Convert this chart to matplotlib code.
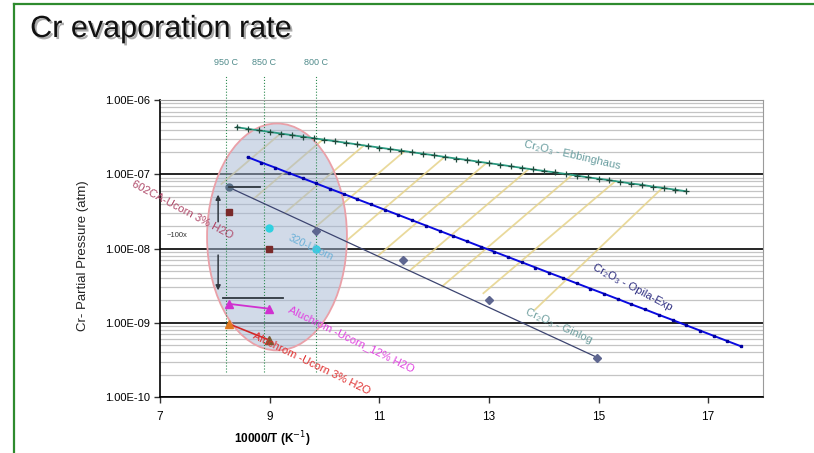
import numpy as np
import matplotlib
matplotlib.use('Agg')
import matplotlib.pyplot as plt
from matplotlib.patches import Ellipse
from matplotlib.lines import Line2D
from matplotlib.ticker import LogLocator, NullFormatter
import matplotlib.patheffects as pe

plt.rcParams['font.family'] = ['Liberation Sans', 'DejaVu Sans']

# Cr2O3 - Ebbinghaus
ebb_x = [8.4, 8.6, 8.8, 9.0, 9.2, 9.4, 9.6, 9.8, 10.0, 10.2, 10.4, 10.6, 10.8, 11.0,
         11.2, 11.4, 11.6, 11.8, 12.0, 12.2, 12.4, 12.6, 12.8, 13.0, 13.2, 13.4, 13.6,
         13.8, 14.0, 14.2, 14.4, 14.6, 14.8, 15.0, 15.2, 15.4, 15.6, 15.8, 16.0, 16.2,
         16.4, 16.6]
ebb_p = [4.30e-7, 4.09e-7, 3.90e-7, 3.72e-7, 3.54e-7, 3.37e-7, 3.21e-7, 3.06e-7, 2.92e-7,
         2.78e-7, 2.65e-7, 2.52e-7, 2.40e-7, 2.29e-7, 2.18e-7, 2.08e-7, 1.98e-7, 1.89e-7,
         1.80e-7, 1.71e-7, 1.63e-7, 1.56e-7, 1.48e-7, 1.41e-7, 1.35e-7, 1.28e-7, 1.22e-7,
         1.16e-7, 1.11e-7, 1.06e-7, 1.01e-7, 9.6e-8, 9.1e-8, 8.7e-8, 8.3e-8, 7.9e-8,
         7.5e-8, 7.2e-8, 6.8e-8, 6.5e-8, 6.2e-8, 5.9e-8]

# Cr2O3 - Opila-Exp
opila_x = [8.60, 8.85, 9.10, 9.35, 9.60, 9.85, 10.10, 10.35, 10.60, 10.85, 11.10, 11.35,
           11.60, 11.85, 12.10, 12.35, 12.60, 12.85, 13.10, 13.35, 13.60, 13.85, 14.10,
           14.35, 14.60, 14.85, 15.10, 15.35, 15.60, 15.85, 16.10, 16.35, 16.60, 16.85,
           17.10, 17.35, 17.60]
opila_p = [1.70e-7, 1.44e-7, 1.23e-7, 1.04e-7, 8.85e-8, 7.52e-8, 6.38e-8, 5.43e-8, 4.61e-8,
           3.92e-8, 3.33e-8, 2.83e-8, 2.40e-8, 2.04e-8, 1.73e-8, 1.47e-8, 1.25e-8, 1.06e-8,
           9.04e-9, 7.69e-9, 6.53e-9, 5.55e-9, 4.71e-9, 4.01e-9, 3.40e-9, 2.89e-9, 2.46e-9,
           2.09e-9, 1.77e-9, 1.51e-9, 1.28e-9, 1.09e-9, 9.25e-10, 7.86e-10, 6.67e-10,
           5.67e-10, 4.82e-10]

# Cr2O3 - Ginlog (trend line + points)
gin_fit_x = [8.25, 14.98]
gin_fit_p = [6.7e-8, 3.4e-10]
gin_x = [9.84, 11.44, 13.0, 14.98]
gin_p = [1.7e-8, 7.1e-9, 2.0e-9, 3.4e-10]
gin0_x = [8.25]
gin0_p = [6.7e-8]

# measured samples
ca602_x = [8.25, 8.98]
ca602_p = [3.1e-8, 1.0e-8]
s320_x = [8.98, 9.84]
s320_p = [1.9e-8, 1.0e-8]
alu12_x = [8.25, 8.98]
alu12_p = [1.8e-9, 1.55e-9]
alu3_x = [8.25, 8.98]
alu3_p = [9.7e-10, 5.9e-10]

# temperature markers
temp_x = [8.2, 8.9, 9.84]
temp_labels = ['950 C', '850 C', '800 C']

# yellow hatching between the curves (top point, bottom point)
hatch_x0 = [9.20, 9.97, 10.72, 11.46, 12.19, 12.96, 13.73, 14.52, 15.31, 16.17]
hatch_p0 = [3.54e-7, 2.94e-7, 2.45e-7, 2.05e-7, 1.71e-7, 1.43e-7, 1.18e-7, 9.8e-8, 8.1e-8, 6.6e-8]
hatch_x1 = [8.12, 8.71, 9.27, 9.83, 10.39, 10.97, 11.55, 12.15, 12.90, 13.84]
hatch_p1 = [7.4e-8, 4.68e-8, 2.99e-8, 1.93e-8, 1.25e-8, 7.9e-9, 5.0e-9, 3.1e-9, 2.5e-9, 1.5e-9]

fig = plt.figure(figsize=(8.14, 4.53), dpi=100)
ax = fig.add_axes([0.1966, 0.1236, 0.7407, 0.6556])
ax.set_yscale('log')
ax.set_xlim(7, 18)
ax.set_ylim(1e-10, 1e-6)
ax.set_axisbelow(True)

# grid like the excel sheet
ax.yaxis.set_minor_locator(LogLocator(base=10, subs=np.arange(2, 10)))
ax.yaxis.set_minor_formatter(NullFormatter())
ax.grid(which='major', axis='y', color='black', lw=1.2)
ax.grid(which='minor', axis='y', color='#c4c4c4', lw=0.9)
ax.set_xticks([7, 9, 11, 13, 15, 17])
ax.set_yticks([1e-10, 1e-9, 1e-8, 1e-7, 1e-6])
ax.set_yticklabels(['1.00E-10', '1.00E-09', '1.00E-08', '1.00E-07', '1.00E-06'])
ax.tick_params(axis='both', which='major', labelsize=8, length=4, width=1, color='#333333')
ax.tick_params(axis='y', which='minor', length=0)
ax.tick_params(axis='x', pad=6, labelsize=8.5)
ax.spines['top'].set_color('#9a9a9a')
ax.spines['right'].set_color('#9a9a9a')
ax.spines['left'].set_linewidth(1.2)
ax.spines['bottom'].set_linewidth(1.2)

ax.set_xlabel('10000/T (K$^{-1}$)', fontsize=8.5, fontweight='bold', labelpad=4)
ax.xaxis.set_label_coords(0.186, -0.11)
ax.set_ylabel('Cr- Partial Pressure (atm)', fontsize=9.5, color='#222222')
ax.yaxis.set_label_coords(-0.118, 0.475)

for i in range(len(hatch_x0)):
    ax.plot([hatch_x0[i], hatch_x1[i]], [hatch_p0[i], hatch_p1[i]], color='#e6d38a', lw=1.3, alpha=0.85, zorder=1.2)

ax.add_patch(Ellipse((0.194, 0.539), 0.232, 0.764, transform=ax.transAxes,
                     facecolor='#a4b6d2', alpha=0.5, edgecolor='none', zorder=1.5))
ax.add_patch(Ellipse((0.194, 0.539), 0.232, 0.764, transform=ax.transAxes,
                     facecolor='none', edgecolor='#eaa0a8', lw=1.3, zorder=1.6))

for tx, tl in zip(temp_x, temp_labels):
    ax.plot([tx, tx], [2.2e-10, 2.2e-6], color='#2c8a50', lw=0.8, ls=':', clip_on=False, zorder=2)
    ax.text(tx, 3.2e-6, tl, fontsize=6.5, color='#4f8a8a', ha='center', va='center', clip_on=False)

ax.plot(ebb_x, ebb_p, color='#2a9a80', lw=1.3, marker='+', ms=4, mec='#1e4a3c', mew=0.9, zorder=3)
ax.plot(opila_x, opila_p, color='#0a0ae0', lw=1.4, marker='s', ms=2, mec='#0000a0', mfc='#0000a0', zorder=3)
ax.plot(gin_fit_x, gin_fit_p, color='#3c4470', lw=0.9, zorder=3)
ax.plot(gin_x, gin_p, ls='none', marker='D', ms=4, color='#5e6690', zorder=4)
ax.plot(gin0_x, gin0_p, ls='none', marker='o', ms=5, color='#5a7088', zorder=4)

ax.plot(ca602_x, ca602_p, ls='none', marker='s', ms=5, color='#7a2a2a', zorder=4)
ax.plot(s320_x, s320_p, ls='none', marker='o', ms=5, color='#30d0e0', zorder=4)
ax.plot(alu12_x, alu12_p, color='#d030d0', lw=1.3, marker='^', ms=6, zorder=4)
ax.plot(alu3_x, alu3_p, color='#d02828', lw=1.2, zorder=3.5)
ax.plot(alu3_x[:1], alu3_p[:1], ls='none', marker='^', ms=6, color='#e07a20', zorder=4)
ax.plot(alu3_x[1:], alu3_p[1:], ls='none', marker='^', ms=6, color='#7a5a30', zorder=4)

# reduction arrows ~100x
ax.plot([8.25, 8.83], [6.7e-8, 6.7e-8], color='#303840', lw=1.3, zorder=4)
ax.plot([8.14, 9.24], [2.16e-9, 2.16e-9], color='#303840', lw=1.3, zorder=4)
ax.annotate('', xy=(8.06, 5.8e-8), xytext=(8.06, 2.1e-8),
            arrowprops=dict(arrowstyle='-|>', color='#303840', lw=1.1, mutation_scale=7), zorder=4)
ax.annotate('', xy=(8.06, 2.5e-9), xytext=(8.06, 8.9e-9),
            arrowprops=dict(arrowstyle='-|>', color='#303840', lw=1.1, mutation_scale=7), zorder=4)
ax.text(7.31, 1.48e-8, '~100x', fontsize=5.5, color='#333333', ha='center', va='center')

# series labels
lab = dict(ha='center', va='center', rotation_mode='anchor', zorder=5)
ax.text(14.52, 1.82e-7, 'Cr₂O₃ - Ebbinghaus', fontsize=8, color='#6a9ea0', rotation=-13, **lab)
ax.text(15.62, 3.04e-9, 'Cr₂O₃ - Opila-Exp', fontsize=8, color='#2c2c80', rotation=-28, **lab)
ax.text(14.27, 9.1e-10, 'Cr₂O₃ - Ginlog', fontsize=8, color='#70a0a0', rotation=-24, **lab)
ax.text(7.40, 3.3e-8, '602CA-Ucorn 3% H2O', fontsize=8, color='#b04a6a', rotation=-28, **lab)
ax.text(9.75, 1.02e-8, '320-Ucorn', fontsize=7.5, color='#6ab0d8', rotation=-25, **lab)
ax.text(10.50, 6.07e-10, 'Aluchrom -Ucorn_12% H2O', fontsize=8, color='#e040e0', rotation=-26, **lab)
ax.text(9.77, 2.8e-10, 'Aluchrom -Ucorn 3% H2O', fontsize=8, color='#e03030', rotation=-26, **lab)

# slide title and green frame
fig.text(0.037, 1 - 37 / 453, 'Cr evaporation rate', fontsize=22, color='#111111', va='baseline',
         path_effects=[pe.withSimplePatchShadow(offset=(1.5, -1.5), shadow_rgbFace='#888888', alpha=0.7)])
fig.add_artist(Line2D([14 / 814, 14 / 814], [0, 1 - 4 / 453], color='#2e8b2e', lw=1.6))
fig.add_artist(Line2D([14 / 814, 1], [1 - 4 / 453, 1 - 4 / 453], color='#2e8b2e', lw=1.6))

fig.savefig('out.png', dpi=100)
